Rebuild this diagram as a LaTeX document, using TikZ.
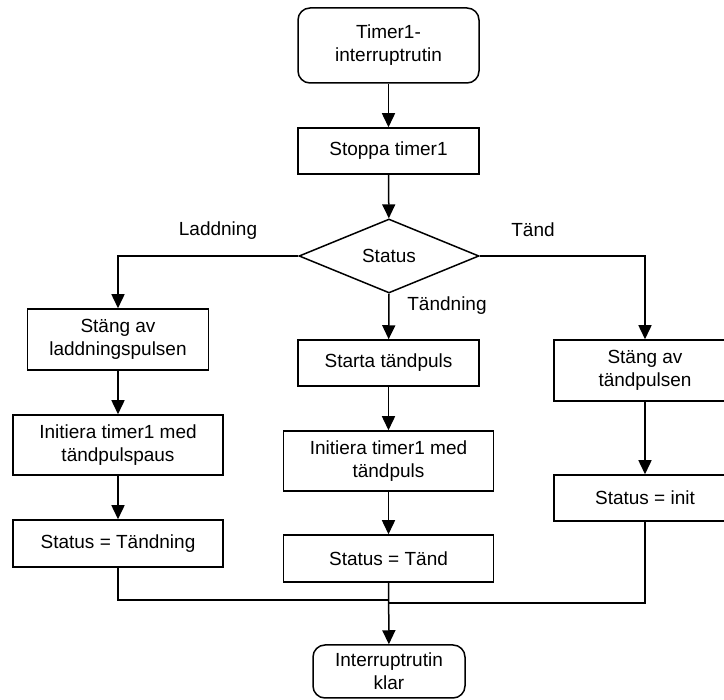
\documentclass[tikz,border=0pt]{standalone}
\usepackage{fontspec}
\setmainfont{Liberation Sans}
\usetikzlibrary{shapes,arrows,arrows.meta,calc}
\tikzset{
    block/.style = {draw, rectangle, line width=1.5pt,
        minimum height=47pt,
        minimum width=210pt, align=center},
    term/.style = {draw, rectangle, rounded corners=12pt, line width=1.5pt,
        minimum height=75pt, minimum width=181pt, align=center},
    decision/.style = {draw, diamond, line width=1.5pt, aspect=2.43,
        minimum width=180pt, minimum height=74pt, inner sep=0pt},
    arrow/.style = {draw, ->, line width=1.5pt},
    line/.style = {draw, line width=1.5pt}
}
\begin{document}
\begin{tikzpicture}[x=1pt, y=-1pt, >={Triangle[length=14pt,width=13pt]},
    every node/.append style={font=\fontsize{19}{23}\selectfont}]
    \useasboundingbox (0,0) rectangle (724,700);
    % start and common part
    \node [term] (start) at (388.5,45.5) {Timer1-\\ interruptrutin};
    \node [block, minimum width=181pt, minimum height=46pt] (stop) at (388.5,151) {Stoppa timer1};
    \node [decision] (status) at (389,256) {Status};
    \draw [arrow] (start) -- (stop);
    \draw [arrow] (stop) -- (status);
    % Laddning
    \node [block, minimum width=181pt, minimum height=61pt] (offcharge) at (118,339.5) {St\"ang av\\ laddningspulsen};
    \node [block, minimum height=60pt] (initpause) at (118,445) {Initiera timer1 med\\ t\"andpulspaus};
    \node [block] (setign) at (118,543.5) {Status = T\"andning};
    \node (lbcharge) at (218,231) {Laddning};
    \draw [arrow] (status.west) -| (offcharge.north);
    \draw [arrow] (offcharge) -- (initpause);
    \draw [arrow] (initpause) -- (setign);
    % Tändning
    \node [block, minimum width=181pt, minimum height=46pt] (startign) at (388.5,363) {Starta t\"andpuls};
    \node [block, minimum height=60pt] (initpulse) at (388.5,461) {Initiera timer1 med\\ t\"andpuls};
    \node [block] (setfire) at (388.5,558.5) {Status = T\"and};
    \node (lbign) at (447,306) {T\"andning};
    \draw [arrow] (status.south) -- (startign);
    \draw [arrow] (startign) -- (initpulse);
    \draw [arrow] (initpulse) -- (setfire);
    % Tänd
    \node [block, minimum width=182pt, minimum height=61pt] (offign) at (645,370.5) {St\"ang av\\ t\"andpulsen};
    \node [block, minimum width=182pt, minimum height=46pt] (setinit) at (645,498) {Status = init};
    \node (lbfire) at (533,230) {T\"and};
    \draw [arrow] (status.east) -| (offign.north);
    \draw [arrow] (offign) -- (setinit);
    % end
    \node [term, minimum width=152pt, minimum height=53pt] (done) at (389,671.5) {Interruptrutin\\ klar};
    \coordinate (joinl) at (388.5,600);
    \coordinate (joinr) at (388.5,603);
    \draw [line] (setign.south) |- (joinl);
    \draw [line] (setinit.south) |- (joinr);
    \draw [arrow] (setfire) -- (done);
\end{tikzpicture}
\end{document}
